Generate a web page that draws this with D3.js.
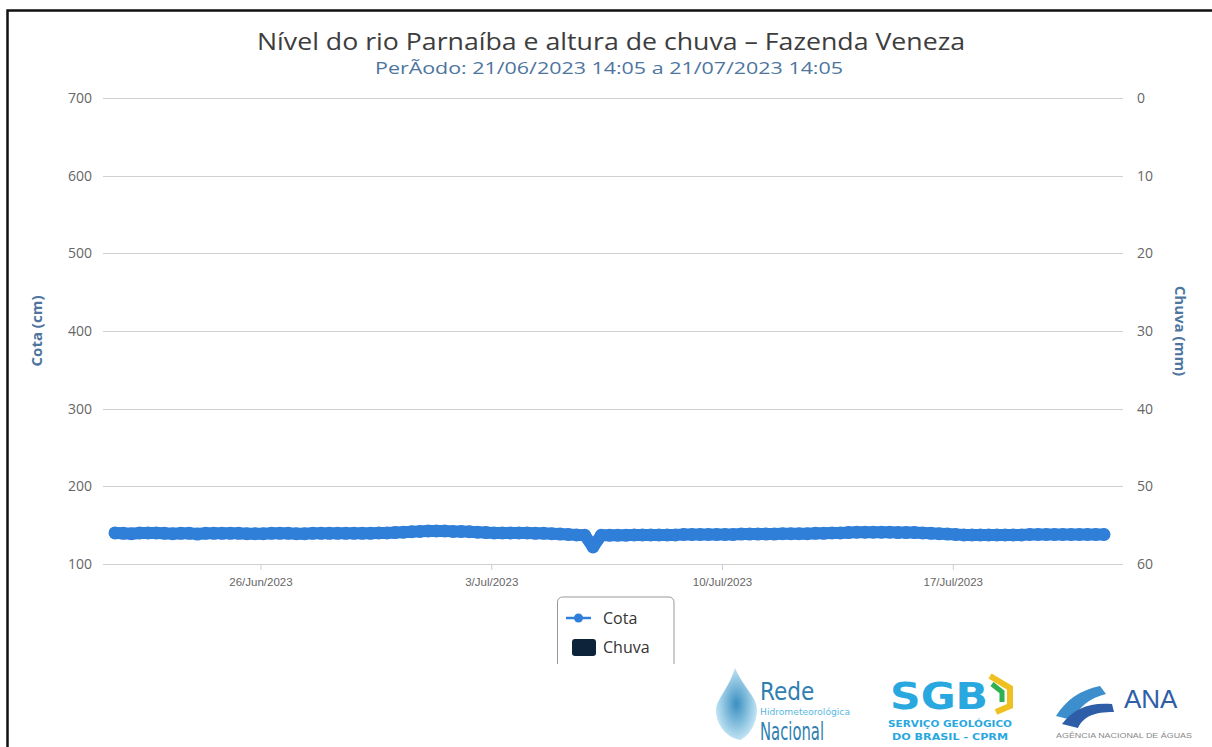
<!DOCTYPE html>
<html><head><meta charset="utf-8">
<script src="https://cdn.jsdelivr.net/npm/d3@7"></script>
<style>body{margin:0;background:#fff}svg{display:block}</style>
</head><body>
<svg id="c" width="1212" height="747"></svg>
<script>
const titleText = "Nível do rio Parnaíba e altura de chuva – Fazenda Veneza";
const subtitleText = "PerÃodo: 21/06/2023 14:05 a 21/07/2023 14:05";
const periodStart = "2023-06-21T14:05";
const periodEnd = "2023-07-21T14:05";
const sampleHours = 6;
// Cota (cm), one reading every 6 h from the period start
const cota = [
 140,139.5,139,140,140,
 140,139.5,139,139.5,139.5,138.5,139.5,139.5,
 139.5,139.5,139.5,139,139,139,139.5,139.5,139.5,139,139,139.5,139.5,139.5,139.5,139.5,139.5,139.5,139.5,140,140,140.5,141,141.5,
 142,142.5,142.5,142.5,142,142,141.5,
 141,140.5,140,140,140,140,140,139.5,139.5,139,138.5,138,
 137.5,137,
 122,
 137,137,137,137,137.5,137.5,137.5,137.5,137.5,137.5,138,138,
 138,138,138,138,138,138.5,138.5,138.5,138.5,138.5,139,139,139,139,139.5,139.5,140,140,
 140.5,141,141,141,141,141,140.5,140.5,140.5,140,139.5,139,
 138.5,138,137.5,137.5,137.5,137.5,137.5,137.5,137.5,137.5,138,138,
 138,138,138,138,138,138,138,138
];
// Chuva (mm), weekly totals (none recorded)
const chuvaDays = ["2023-06-22","2023-06-29","2023-07-06","2023-07-13","2023-07-20"];
const chuva = [0,0,0,0,0];
const cotaTicks = [100,200,300,400,500,600,700];
const chuvaTicks = [0,10,20,30,40,50,60];
const xTickDates = ["2023-06-26","2023-07-03","2023-07-10","2023-07-17"];
const seriesNames = ["Cota","Chuva"];
const colors = {cota:"#2f7ed8", chuva:"#0d233a"};

(function(){
const svg = d3.select("#c");
const parse = d3.timeParse("%Y-%m-%dT%H:%M");
const pDay = d3.timeParse("%Y-%m-%d");
const t0 = parse(periodStart), t1 = parse(periodEnd);
const data = cota.map((v,i)=>({t:d3.timeHour.offset(t0, i*sampleHours), v}));

const pL = 103, pR = 1123, pT = 98, pB = 564;
const x = d3.scaleTime().domain([t0,t1]).range([115,1104]);
const y = d3.scaleLinear().domain([100,700]).range([pB,pT]);
const y2 = d3.scaleLinear().domain([0,60]).range([pT,pB]);

// outer frame
svg.append("path").attr("d","M1215,10.5H7.5V750").attr("fill","none").attr("stroke","#111").attr("stroke-width",2.5);

// gridlines
svg.append("g").selectAll("line").data(cotaTicks).join("line")
  .attr("x1",pL).attr("x2",pR).attr("y1",d=>Math.round(y(d))+0.5).attr("y2",d=>Math.round(y(d))+0.5)
  .attr("stroke","#d0d0d0").attr("stroke-width",1);

const font = "'Open Sans', 'DejaVu Sans', sans-serif";
svg.append("g").selectAll("text").data(cotaTicks).join("text")
  .attr("x",92).attr("y",d=>y(d)+5).attr("text-anchor","end")
  .attr("font-family",font).attr("font-size",14).attr("fill","#666").text(d=>d);
svg.append("g").selectAll("text").data(chuvaTicks).join("text")
  .attr("x",1137).attr("y",d=>y2(d)+5).attr("text-anchor","start")
  .attr("font-family",font).attr("font-size",14).attr("fill","#666").text(d=>d);

svg.append("text").attr("transform","translate(42,331) rotate(-90)").attr("text-anchor","middle")
  .attr("font-family",font).attr("font-size",15).attr("font-weight","bold").attr("fill","#4d759e").text("Cota (cm)");
svg.append("text").attr("transform","translate(1175,331) rotate(90)").attr("text-anchor","middle")
  .attr("font-family",font).attr("font-size",15).attr("font-weight","bold").attr("fill","#4d759e").text("Chuva (mm)");

// x axis
const xt = xTickDates.map(pDay);
const xa = svg.append("g").attr("transform",`translate(0,${pB})`)
  .call(d3.axisBottom(x).tickValues(xt).tickSize(6).tickFormat(d3.timeFormat("%-d/%b/%Y")));
xa.select(".domain").remove();
xa.selectAll(".tick line").attr("stroke","#c0d0e0");
xa.selectAll(".tick text").attr("font-family","'Liberation Sans', Arial, sans-serif").attr("font-size",11.5)
  .attr("fill","#666").attr("dy","0").attr("y",22);

// chuva bars (zero height)
svg.append("g").selectAll("rect").data(chuva).join("rect")
  .attr("x",(d,i)=>x(pDay(chuvaDays[i]))-3).attr("width",6)
  .attr("y",y2(0)).attr("height",d=>y2(d)-y2(0)).attr("fill",colors.chuva);

// cota line
const line = d3.line().x(d=>x(d.t)).y(d=>y(d.v));
svg.append("path").datum(data).attr("d",line).attr("fill","none")
  .attr("stroke",colors.cota).attr("stroke-width",12).attr("stroke-linejoin","round").attr("stroke-linecap","round");
svg.append("g").selectAll("circle").data(data).join("circle")
  .attr("cx",d=>x(d.t)).attr("cy",d=>y(d.v)).attr("r",6.5).attr("fill",colors.cota);

// title
svg.append("text").attr("x",611).attr("y",50).attr("text-anchor","middle")
  .attr("font-family",font).attr("font-size",23).attr("fill","#3d3d3d")
  .attr("textLength",708).attr("lengthAdjust","spacingAndGlyphs").text(titleText);
svg.append("text").attr("x",609).attr("y",74).attr("text-anchor","middle")
  .attr("font-family",font).attr("font-size",16).attr("fill","#4d759e")
  .attr("textLength",468).attr("lengthAdjust","spacingAndGlyphs").text(subtitleText);

// legend
const lg = svg.append("g");
lg.append("path").attr("d","M557.5,664V602a5,5 0 0 1 5,-5H669a5,5 0 0 1 5,5V664")
  .attr("fill","#fff").attr("stroke","#999").attr("stroke-width",1);
lg.append("line").attr("x1",566).attr("x2",591).attr("y1",618).attr("y2",618).attr("stroke",colors.cota).attr("stroke-width",2.5);
lg.append("circle").attr("cx",578.5).attr("cy",618).attr("r",4.5).attr("fill",colors.cota);
lg.append("rect").attr("x",572).attr("y",639).attr("width",24).attr("height",17).attr("rx",3).attr("fill",colors.chuva);
lg.selectAll("text.lt").data(seriesNames).join("text").attr("class","lt")
  .attr("x",603).attr("y",(d,i)=>624+i*29).attr("font-family",font).attr("font-size",16).attr("fill","#333").text(d=>d);

// logos (approximate)
const lo = svg.append("g");
const defs = svg.append("defs");
const dgrad = defs.append("radialGradient").attr("id","rg");
dgrad.append("stop").attr("offset","0%").attr("stop-color","#3a8fc0");
dgrad.append("stop").attr("offset","100%").attr("stop-color","#bfe3f3");
const rg = lo.append("g");
rg.append("path").attr("d","M735,668 C728,690 716,700 716,710 C716,726 728,738 740,740 C750,736 757,722 757,710 C757,697 745,690 735,668Z").attr("fill","url(#rg)");
rg.append("text").attr("x",760).attr("y",700).attr("font-family","'Liberation Sans Narrow','DejaVu Sans Condensed',sans-serif").attr("font-size",24).attr("fill","#2f7fb0").text("Rede");
rg.append("text").attr("x",760).attr("y",715).attr("font-family","'DejaVu Sans Condensed',sans-serif").attr("font-size",8).attr("fill","#59b7e0").attr("textLength",90).attr("lengthAdjust","spacingAndGlyphs").text("Hidrometeorológica");
rg.append("text").attr("x",760).attr("y",740).attr("font-family","'Liberation Sans Narrow','DejaVu Sans Condensed',sans-serif").attr("font-size",24).attr("fill","#2f7fb0").attr("textLength",64).attr("lengthAdjust","spacingAndGlyphs").text("Nacional");
const sg = lo.append("g");
sg.append("text").attr("x",890).attr("y",709).attr("font-family","'DejaVu Sans',sans-serif").attr("font-weight","bold").attr("font-size",38).attr("fill","#29a8e0").attr("textLength",98).attr("lengthAdjust","spacingAndGlyphs").text("SGB");
sg.append("path").attr("d","M990,676 L1010,688 L1010,706 L996,712").attr("fill","none").attr("stroke","#f0c020").attr("stroke-width",6);
sg.append("path").attr("d","M992,684 L1002,692 L1002,702").attr("fill","none").attr("stroke","#30b050").attr("stroke-width",5);
sg.append("text").attr("x",950).attr("y",727).attr("text-anchor","middle").attr("font-family","'DejaVu Sans',sans-serif").attr("font-weight","bold").attr("font-size",9).attr("fill","#29a8e0").attr("textLength",124).attr("lengthAdjust","spacingAndGlyphs").text("SERVIÇO GEOLÓGICO");
sg.append("text").attr("x",950).attr("y",740).attr("text-anchor","middle").attr("font-family","'DejaVu Sans',sans-serif").attr("font-weight","bold").attr("font-size",9).attr("fill","#29a8e0").attr("textLength",116).attr("lengthAdjust","spacingAndGlyphs").text("DO BRASIL - CPRM");
const an = lo.append("g");
an.append("path").attr("d","M1056,716 C1066,700 1080,690 1100,686 L1106,694 C1090,698 1080,706 1072,720 Z").attr("fill","#3c8fcc");
an.append("path").attr("d","M1062,724 C1074,708 1090,702 1112,704 L1114,712 C1094,712 1084,716 1078,728 Z").attr("fill","#2f5ea8");
an.append("text").attr("x",1124).attr("y",708).attr("font-family","'Liberation Sans',Arial,sans-serif").attr("font-size",26).attr("fill","#2f5ea8").text("ANA");
an.append("text").attr("x",1056).attr("y",738).attr("font-family","'Liberation Sans',Arial,sans-serif").attr("font-size",7).attr("fill","#888").attr("textLength",136).attr("lengthAdjust","spacingAndGlyphs").text("AGÊNCIA NACIONAL DE ÁGUAS");
})();
</script>
</body></html>
